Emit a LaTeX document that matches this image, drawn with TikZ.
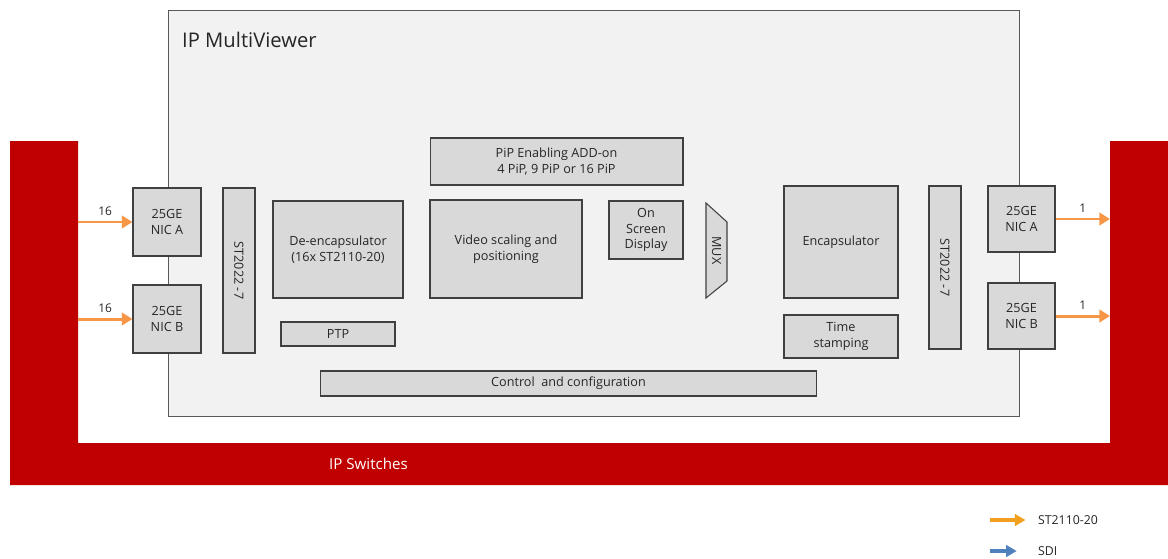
\documentclass[tikz,border=0pt]{standalone}
\usepackage{fontspec}
\setmainfont{Open Sans}
\usetikzlibrary{arrows.meta, positioning}
\definecolor{mvback}{RGB}{242, 242, 242}
\definecolor{mvborder}{RGB}{89, 89, 89}
\definecolor{blkfill}{RGB}{217, 217, 217}
\definecolor{blkborder}{RGB}{64, 64, 64}
\definecolor{swred}{RGB}{192, 0, 0}
\definecolor{streamorange}{RGB}{247, 150, 70}
\definecolor{legorange}{RGB}{240, 160, 30}
\definecolor{sdiblue}{RGB}{79, 129, 189}
\definecolor{txtdark}{RGB}{38, 38, 38}
\tikzset{
  blk/.style={draw=blkborder, fill=blkfill, line width=0.6pt, align=center, text=txtdark,
    font=\fontsize{7.2}{9}\selectfont, inner sep=1pt},
  vblk/.style={blk, rotate=-90},
  flow/.style={-{Triangle[length=6pt, width=7pt]}, line width=1.7pt, streamorange},
  lbl/.style={font=\fontsize{6.8}{8}\selectfont, text=txtdark, inner sep=1pt},
  legarr/.style={-{Triangle[length=6pt, width=6.5pt]}, line width=1.8pt, shorten >=6pt}
}

\begin{document}
\begin{tikzpicture}[x=0.02cm, y=-0.02cm]
\useasboundingbox (0,0) rectangle (1168,558);

% switches
\fill[swred] (10,141) -- (78,141) -- (78,443) -- (1110,443) -- (1110,141) -- (1168,141)
  -- (1168,485) -- (10,485) -- cycle;
\node[text=white, font=\fontsize{8.6}{10}\selectfont, anchor=west] (sw) at (323,464) {IP Switches};
\coordinate (swA) at (78,222);
\coordinate (swB) at (78,319);
\coordinate (swC) at (1110,219);
\coordinate (swD) at (1110,316);

% multiviewer
\node[draw=mvborder, fill=mvback, line width=0.6pt, minimum width=17.04cm, minimum height=8.14cm] (mv) at (594,213.5) {};
\node[anchor=west, font=\fontsize{11.5}{14}\selectfont, text=txtdark] (title) at (176,40) {IP MultiViewer};

\node[blk, minimum width=1.36cm, minimum height=1.36cm] (nicAin) at (167,222) {25GE\\NIC A};
\node[blk, minimum width=1.36cm, minimum height=1.36cm] (nicBin) at (167,319) {25GE\\NIC B};
\node[vblk, minimum width=3.3cm, minimum height=0.64cm] (st7in) at (239,270.5) {ST2022 -7};
\node[blk, minimum width=2.6cm, minimum height=1.94cm] (deenc) at (338,249.5) {De-encapsulator\\(16x ST2110-20)};
\node[blk, minimum width=2.28cm, minimum height=0.48cm] (ptp) at (338,334) {PTP};
\node[blk, minimum width=5.06cm, minimum height=0.94cm] (pip) at (556.5,161.5) {PiP Enabling ADD-on\\4 PiP, 9 PiP or 16 PiP};
\node[blk, minimum width=3.04cm, minimum height=1.96cm] (scale) at (506,249) {Video scaling and\\positioning};
\node[blk, minimum width=1.48cm, minimum height=1.16cm] (osd) at (646,230) {On\\Screen\\Display};
\draw[blkborder, fill=blkfill, line width=0.6pt] (706,203) -- (727,222) -- (727,281) -- (706,298) -- cycle;
\node[lbl, rotate=-90, font=\fontsize{7.2}{9}\selectfont] (mux) at (716.5,250.5) {MUX};
\node[blk, minimum width=2.28cm, minimum height=2.24cm] (enc) at (841,242) {Encapsulator};
\node[blk, minimum width=2.28cm, minimum height=0.86cm] (tstamp) at (841,336.5) {Time\\stamping};
\node[vblk, minimum width=3.26cm, minimum height=0.64cm] (st7out) at (945,267.5) {ST2022 -7};
\node[blk, minimum width=1.34cm, minimum height=1.32cm] (nicAout) at (1021.5,219) {25GE\\NIC A};
\node[blk, minimum width=1.34cm, minimum height=1.32cm] (nicBout) at (1021.5,316) {25GE\\NIC B};
\node[blk, minimum width=9.94cm, minimum height=0.5cm] (ctrl) at (568.5,383.5) {Control\ \ and configuration};

% streams
\draw[flow] (swA) -- node[lbl, above=2pt] {16} (nicAin);
\draw[flow] (swB) -- node[lbl, above=2pt] {16} (nicBin);
\draw[flow] (nicAout) -- node[lbl, above=2pt] {1} (swC);
\draw[flow] (nicBout) -- node[lbl, above=2pt] {1} (swD);

% legend
\node[lbl, anchor=west, font=\fontsize{7}{8}\selectfont] (legST) at (1036,520) {ST2110-20};
\node[lbl, anchor=west, font=\fontsize{7}{8}\selectfont] (legSDI) at (1036,551) {SDI};
\coordinate (legSTa) at (990,520);
\coordinate (legSDIa) at (990,551);
\draw[legarr, legorange] (legSTa) -- (legST);
\draw[legarr, sdiblue, shorten >=11pt] (legSDIa) -- (legSDI);
\end{tikzpicture}
\end{document}
